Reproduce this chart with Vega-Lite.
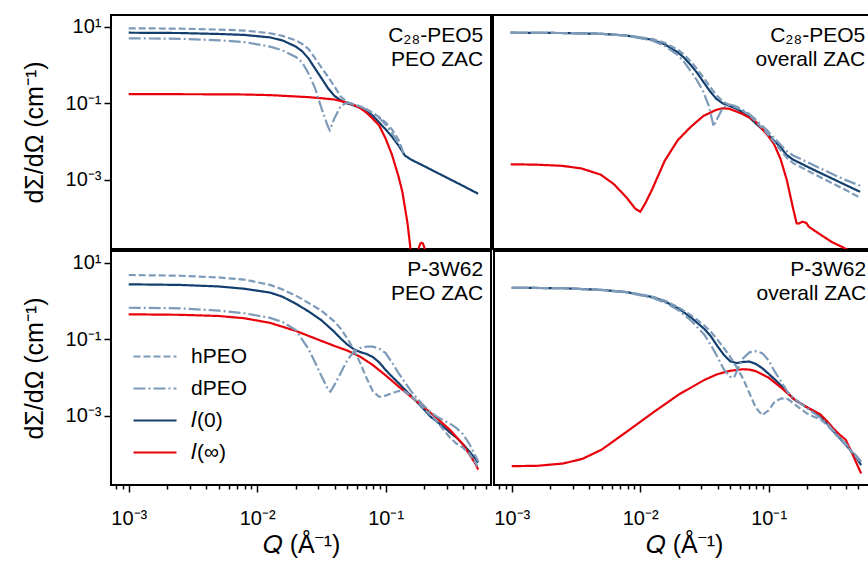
{
"$schema": "https://vega.github.io/schema/vega-lite/v6.json",
"padding": {"left": 21, "top": 14, "right": 0, "bottom": 0},
"background": "white",
"spacing": 0,
"resolve": {"scale": {"stroke": "independent", "strokeDash": "independent"}},
"datasets": {"d": [
{"p":"TL","s":"I0","q":0.001,"i":6.97},{"p":"TL","s":"I0","q":0.00251,"i":6.84},{"p":"TL","s":"I0","q":0.00501,"i":6.46},{"p":"TL","s":"I0","q":0.00794,"i":6.10},{"p":"TL","s":"I0","q":0.0126,"i":5.25},{"p":"TL","s":"I0","q":0.0158,"i":4.37},{"p":"TL","s":"I0","q":0.02,"i":3.02},{"p":"TL","s":"I0","q":0.0224,"i":2.29},{"p":"TL","s":"I0","q":0.0251,"i":1.48},{"p":"TL","s":"I0","q":0.0282,"i":0.813},{"p":"TL","s":"I0","q":0.0316,"i":0.457},{"p":"TL","s":"I0","q":0.0355,"i":0.251},{"p":"TL","s":"I0","q":0.0398,"i":0.158},{"p":"TL","s":"I0","q":0.0447,"i":0.120},{"p":"TL","s":"I0","q":0.0501,"i":0.100},{"p":"TL","s":"I0","q":0.0562,"i":0.0891},{"p":"TL","s":"I0","q":0.0631,"i":0.0776},{"p":"TL","s":"I0","q":0.0708,"i":0.0646},{"p":"TL","s":"I0","q":0.0794,"i":0.0479},{"p":"TL","s":"I0","q":0.0891,"i":0.0316},{"p":"TL","s":"I0","q":0.1,"i":0.0209},{"p":"TL","s":"I0","q":0.112,"i":0.0135},{"p":"TL","s":"I0","q":0.126,"i":0.00794},{"p":"TL","s":"I0","q":0.141,"i":0.00437},{"p":"TL","s":"I0","q":0.158,"i":0.00339},{"p":"TL","s":"I0","q":0.2,"i":0.00229},{"p":"TL","s":"I0","q":0.251,"i":0.00155},{"p":"TL","s":"I0","q":0.316,"i":0.00105},{"p":"TL","s":"I0","q":0.398,"i":0.000708},{"p":"TL","s":"I0","q":0.525,"i":0.000437},
{"p":"TL","s":"Iinf","q":0.001,"i":0.174},{"p":"TL","s":"Iinf","q":0.00251,"i":0.173},{"p":"TL","s":"Iinf","q":0.00501,"i":0.172},{"p":"TL","s":"Iinf","q":0.00794,"i":0.170},{"p":"TL","s":"Iinf","q":0.0126,"i":0.164},{"p":"TL","s":"Iinf","q":0.02,"i":0.151},{"p":"TL","s":"Iinf","q":0.0251,"i":0.145},{"p":"TL","s":"Iinf","q":0.0316,"i":0.136},{"p":"TL","s":"Iinf","q":0.0398,"i":0.126},{"p":"TL","s":"Iinf","q":0.0501,"i":0.105},{"p":"TL","s":"Iinf","q":0.0562,"i":0.0912},{"p":"TL","s":"Iinf","q":0.0631,"i":0.0759},{"p":"TL","s":"Iinf","q":0.0708,"i":0.0575},{"p":"TL","s":"Iinf","q":0.0794,"i":0.0398},{"p":"TL","s":"Iinf","q":0.0891,"i":0.0263},{"p":"TL","s":"Iinf","q":0.1,"i":0.012},{"p":"TL","s":"Iinf","q":0.112,"i":0.00457},{"p":"TL","s":"Iinf","q":0.126,"i":0.00123},{"p":"TL","s":"Iinf","q":0.135,"i":0.00049},{"p":"TL","s":"Iinf","q":0.141,"i":0.0002},{"p":"TL","s":"Iinf","q":0.148,"i":0.0000741},{"p":"TL","s":"Iinf","q":0.155,"i":0.00002},{"p":"TL","s":"Iinf","q":0.162,"i":0.0000025},{"p":"TL","s":"Iinf","q":0.170,"i":0.000001},{"p":"TL","s":"Iinf","q":0.174,"i":0.0000063},{"p":"TL","s":"Iinf","q":0.180,"i":0.0000158},{"p":"TL","s":"Iinf","q":0.186,"i":0.0000219},{"p":"TL","s":"Iinf","q":0.191,"i":0.0000229},{"p":"TL","s":"Iinf","q":0.195,"i":0.0000219},{"p":"TL","s":"Iinf","q":0.202,"i":0.0000158},{"p":"TL","s":"Iinf","q":0.209,"i":0.0000063},{"p":"TL","s":"Iinf","q":0.214,"i":0.000001},
{"p":"TL","s":"hPEO","q":0.001,"i":9.08},{"p":"TL","s":"hPEO","q":0.00251,"i":8.91},{"p":"TL","s":"hPEO","q":0.00501,"i":8.41},{"p":"TL","s":"hPEO","q":0.00794,"i":7.94},{"p":"TL","s":"hPEO","q":0.0126,"i":6.76},{"p":"TL","s":"hPEO","q":0.0158,"i":5.75},{"p":"TL","s":"hPEO","q":0.02,"i":4.37},{"p":"TL","s":"hPEO","q":0.0224,"i":3.55},{"p":"TL","s":"hPEO","q":0.0251,"i":2.63},{"p":"TL","s":"hPEO","q":0.0282,"i":1.51},{"p":"TL","s":"hPEO","q":0.0316,"i":0.871},{"p":"TL","s":"hPEO","q":0.0355,"i":0.501},{"p":"TL","s":"hPEO","q":0.0398,"i":0.282},{"p":"TL","s":"hPEO","q":0.0447,"i":0.151},{"p":"TL","s":"hPEO","q":0.0501,"i":0.107},{"p":"TL","s":"hPEO","q":0.0562,"i":0.0933},{"p":"TL","s":"hPEO","q":0.0631,"i":0.0832},{"p":"TL","s":"hPEO","q":0.0708,"i":0.0708},{"p":"TL","s":"hPEO","q":0.0794,"i":0.0562},{"p":"TL","s":"hPEO","q":0.0891,"i":0.0437},{"p":"TL","s":"hPEO","q":0.1,"i":0.0316},{"p":"TL","s":"hPEO","q":0.112,"i":0.0209},{"p":"TL","s":"hPEO","q":0.126,"i":0.0112},{"p":"TL","s":"hPEO","q":0.138,"i":0.00501},
{"p":"TL","s":"dPEO","q":0.001,"i":4.98},{"p":"TL","s":"dPEO","q":0.00251,"i":4.84},{"p":"TL","s":"dPEO","q":0.00501,"i":4.42},{"p":"TL","s":"dPEO","q":0.00794,"i":3.98},{"p":"TL","s":"dPEO","q":0.0126,"i":3.02},{"p":"TL","s":"dPEO","q":0.0158,"i":2.40},{"p":"TL","s":"dPEO","q":0.02,"i":1.62},{"p":"TL","s":"dPEO","q":0.0224,"i":1.175},{"p":"TL","s":"dPEO","q":0.0251,"i":0.603},{"p":"TL","s":"dPEO","q":0.0282,"i":0.251},{"p":"TL","s":"dPEO","q":0.0316,"i":0.0759},{"p":"TL","s":"dPEO","q":0.0355,"i":0.0251},{"p":"TL","s":"dPEO","q":0.0367,"i":0.0200},{"p":"TL","s":"dPEO","q":0.0398,"i":0.0398},{"p":"TL","s":"dPEO","q":0.0447,"i":0.0851},{"p":"TL","s":"dPEO","q":0.0501,"i":0.105},{"p":"TL","s":"dPEO","q":0.0562,"i":0.0955},{"p":"TL","s":"dPEO","q":0.0631,"i":0.0832},{"p":"TL","s":"dPEO","q":0.0708,"i":0.0692},{"p":"TL","s":"dPEO","q":0.0794,"i":0.0562},{"p":"TL","s":"dPEO","q":0.0891,"i":0.0417},{"p":"TL","s":"dPEO","q":0.1,"i":0.0282},{"p":"TL","s":"dPEO","q":0.112,"i":0.0166},{"p":"TL","s":"dPEO","q":0.126,"i":0.00891},{"p":"TL","s":"dPEO","q":0.138,"i":0.00501},
{"p":"TR","s":"I0","q":0.001,"i":6.97},{"p":"TR","s":"I0","q":0.00251,"i":6.84},{"p":"TR","s":"I0","q":0.00501,"i":6.53},{"p":"TR","s":"I0","q":0.00794,"i":5.89},{"p":"TR","s":"I0","q":0.0126,"i":4.57},{"p":"TR","s":"I0","q":0.0158,"i":3.47},{"p":"TR","s":"I0","q":0.02,"i":2.14},{"p":"TR","s":"I0","q":0.0224,"i":1.55},{"p":"TR","s":"I0","q":0.0251,"i":1.02},{"p":"TR","s":"I0","q":0.0282,"i":0.631},{"p":"TR","s":"I0","q":0.0316,"i":0.363},{"p":"TR","s":"I0","q":0.0355,"i":0.209},{"p":"TR","s":"I0","q":0.0398,"i":0.132},{"p":"TR","s":"I0","q":0.0447,"i":0.100},{"p":"TR","s":"I0","q":0.0501,"i":0.0871},{"p":"TR","s":"I0","q":0.0562,"i":0.0741},{"p":"TR","s":"I0","q":0.0631,"i":0.0603},{"p":"TR","s":"I0","q":0.0708,"i":0.0457},{"p":"TR","s":"I0","q":0.0794,"i":0.0316},{"p":"TR","s":"I0","q":0.0891,"i":0.0224},{"p":"TR","s":"I0","q":0.1,"i":0.0158},{"p":"TR","s":"I0","q":0.112,"i":0.0107},{"p":"TR","s":"I0","q":0.126,"i":0.00708},{"p":"TR","s":"I0","q":0.141,"i":0.00447},{"p":"TR","s":"I0","q":0.158,"i":0.00339},{"p":"TR","s":"I0","q":0.2,"i":0.00229},{"p":"TR","s":"I0","q":0.251,"i":0.00158},{"p":"TR","s":"I0","q":0.316,"i":0.0011},{"p":"TR","s":"I0","q":0.398,"i":0.000759},{"p":"TR","s":"I0","q":0.525,"i":0.00049},
{"p":"TR","s":"Iinf","q":0.001,"i":0.00257},{"p":"TR","s":"Iinf","q":0.00158,"i":0.00251},{"p":"TR","s":"Iinf","q":0.00251,"i":0.00234},{"p":"TR","s":"Iinf","q":0.00355,"i":0.002},{"p":"TR","s":"Iinf","q":0.00501,"i":0.00138},{"p":"TR","s":"Iinf","q":0.00631,"i":0.000794},{"p":"TR","s":"Iinf","q":0.00794,"i":0.000355},{"p":"TR","s":"Iinf","q":0.00933,"i":0.000178},{"p":"TR","s":"Iinf","q":0.0102,"i":0.000148},{"p":"TR","s":"Iinf","q":0.0112,"i":0.000251},{"p":"TR","s":"Iinf","q":0.0126,"i":0.000562},{"p":"TR","s":"Iinf","q":0.0158,"i":0.00316},{"p":"TR","s":"Iinf","q":0.02,"i":0.011},{"p":"TR","s":"Iinf","q":0.0251,"i":0.024},{"p":"TR","s":"Iinf","q":0.0316,"i":0.0468},{"p":"TR","s":"Iinf","q":0.0398,"i":0.0676},{"p":"TR","s":"Iinf","q":0.0447,"i":0.0741},{"p":"TR","s":"Iinf","q":0.0501,"i":0.0724},{"p":"TR","s":"Iinf","q":0.0631,"i":0.0537},{"p":"TR","s":"Iinf","q":0.0794,"i":0.0355},{"p":"TR","s":"Iinf","q":0.1,"i":0.0148},{"p":"TR","s":"Iinf","q":0.112,"i":0.00871},{"p":"TR","s":"Iinf","q":0.126,"i":0.00355},{"p":"TR","s":"Iinf","q":0.141,"i":0.001},{"p":"TR","s":"Iinf","q":0.158,"i":0.000178},{"p":"TR","s":"Iinf","q":0.162,"i":0.000126},{"p":"TR","s":"Iinf","q":0.168,"i":0.0000741},{"p":"TR","s":"Iinf","q":0.174,"i":0.0000724},{"p":"TR","s":"Iinf","q":0.186,"i":0.0000813},{"p":"TR","s":"Iinf","q":0.2,"i":0.0000759},{"p":"TR","s":"Iinf","q":0.209,"i":0.0000603},{"p":"TR","s":"Iinf","q":0.251,"i":0.0000398},{"p":"TR","s":"Iinf","q":0.316,"i":0.000024},{"p":"TR","s":"Iinf","q":0.398,"i":0.0000166},{"p":"TR","s":"Iinf","q":0.501,"i":0.0000105},
{"p":"TR","s":"hPEO","q":0.001,"i":6.97},{"p":"TR","s":"hPEO","q":0.00251,"i":6.84},{"p":"TR","s":"hPEO","q":0.00501,"i":6.53},{"p":"TR","s":"hPEO","q":0.00794,"i":5.96},{"p":"TR","s":"hPEO","q":0.0126,"i":4.79},{"p":"TR","s":"hPEO","q":0.0158,"i":3.80},{"p":"TR","s":"hPEO","q":0.02,"i":2.51},{"p":"TR","s":"hPEO","q":0.0224,"i":1.86},{"p":"TR","s":"hPEO","q":0.0251,"i":1.26},{"p":"TR","s":"hPEO","q":0.0282,"i":0.794},{"p":"TR","s":"hPEO","q":0.0316,"i":0.479},{"p":"TR","s":"hPEO","q":0.0355,"i":0.275},{"p":"TR","s":"hPEO","q":0.0398,"i":0.166},{"p":"TR","s":"hPEO","q":0.0447,"i":0.112},{"p":"TR","s":"hPEO","q":0.0501,"i":0.0912},{"p":"TR","s":"hPEO","q":0.0562,"i":0.0794},{"p":"TR","s":"hPEO","q":0.0631,"i":0.0661},{"p":"TR","s":"hPEO","q":0.0708,"i":0.0513},{"p":"TR","s":"hPEO","q":0.0794,"i":0.0363},{"p":"TR","s":"hPEO","q":0.0891,"i":0.024},{"p":"TR","s":"hPEO","q":0.1,"i":0.0158},{"p":"TR","s":"hPEO","q":0.112,"i":0.01},{"p":"TR","s":"hPEO","q":0.126,"i":0.00603},{"p":"TR","s":"hPEO","q":0.141,"i":0.0038},{"p":"TR","s":"hPEO","q":0.158,"i":0.00275},{"p":"TR","s":"hPEO","q":0.2,"i":0.00182},{"p":"TR","s":"hPEO","q":0.251,"i":0.00123},{"p":"TR","s":"hPEO","q":0.316,"i":0.000832},{"p":"TR","s":"hPEO","q":0.398,"i":0.000562},{"p":"TR","s":"hPEO","q":0.525,"i":0.000347},
{"p":"TR","s":"dPEO","q":0.001,"i":6.97},{"p":"TR","s":"dPEO","q":0.00251,"i":6.84},{"p":"TR","s":"dPEO","q":0.00501,"i":6.53},{"p":"TR","s":"dPEO","q":0.00794,"i":5.82},{"p":"TR","s":"dPEO","q":0.0126,"i":4.37},{"p":"TR","s":"dPEO","q":0.0158,"i":3.16},{"p":"TR","s":"dPEO","q":0.02,"i":1.82},{"p":"TR","s":"dPEO","q":0.0224,"i":1.20},{"p":"TR","s":"dPEO","q":0.0251,"i":0.708},{"p":"TR","s":"dPEO","q":0.0282,"i":0.398},{"p":"TR","s":"dPEO","q":0.0316,"i":0.200},{"p":"TR","s":"dPEO","q":0.0347,"i":0.0891},{"p":"TR","s":"dPEO","q":0.038,"i":0.0251},{"p":"TR","s":"dPEO","q":0.0398,"i":0.0355},{"p":"TR","s":"dPEO","q":0.0447,"i":0.0759},{"p":"TR","s":"dPEO","q":0.0501,"i":0.0933},{"p":"TR","s":"dPEO","q":0.0562,"i":0.0851},{"p":"TR","s":"dPEO","q":0.0631,"i":0.0692},{"p":"TR","s":"dPEO","q":0.0708,"i":0.055},{"p":"TR","s":"dPEO","q":0.0794,"i":0.0398},{"p":"TR","s":"dPEO","q":0.0891,"i":0.0275},{"p":"TR","s":"dPEO","q":0.1,"i":0.0191},{"p":"TR","s":"dPEO","q":0.112,"i":0.0126},{"p":"TR","s":"dPEO","q":0.126,"i":0.00832},{"p":"TR","s":"dPEO","q":0.141,"i":0.00562},{"p":"TR","s":"dPEO","q":0.158,"i":0.00437},{"p":"TR","s":"dPEO","q":0.2,"i":0.00302},{"p":"TR","s":"dPEO","q":0.251,"i":0.00209},{"p":"TR","s":"dPEO","q":0.316,"i":0.00145},{"p":"TR","s":"dPEO","q":0.398,"i":0.00102},{"p":"TR","s":"dPEO","q":0.525,"i":0.000708},
{"p":"BL","s":"I0","q":0.001,"i":2.73},{"p":"BL","s":"I0","q":0.00251,"i":2.63},{"p":"BL","s":"I0","q":0.00501,"i":2.40},{"p":"BL","s":"I0","q":0.00794,"i":2.09},{"p":"BL","s":"I0","q":0.0126,"i":1.66},{"p":"BL","s":"I0","q":0.0158,"i":1.29},{"p":"BL","s":"I0","q":0.02,"i":0.851},{"p":"BL","s":"I0","q":0.0251,"i":0.537},{"p":"BL","s":"I0","q":0.0316,"i":0.316},{"p":"BL","s":"I0","q":0.0398,"i":0.158},{"p":"BL","s":"I0","q":0.0447,"i":0.105},{"p":"BL","s":"I0","q":0.0501,"i":0.0741},{"p":"BL","s":"I0","q":0.0562,"i":0.0562},{"p":"BL","s":"I0","q":0.0631,"i":0.0468},{"p":"BL","s":"I0","q":0.0708,"i":0.0417},{"p":"BL","s":"I0","q":0.0794,"i":0.0347},{"p":"BL","s":"I0","q":0.0891,"i":0.0251},{"p":"BL","s":"I0","q":0.1,"i":0.0158},{"p":"BL","s":"I0","q":0.112,"i":0.0107},{"p":"BL","s":"I0","q":0.126,"i":0.00724},{"p":"BL","s":"I0","q":0.141,"i":0.0049},{"p":"BL","s":"I0","q":0.158,"i":0.00331},{"p":"BL","s":"I0","q":0.178,"i":0.00219},{"p":"BL","s":"I0","q":0.2,"i":0.00145},{"p":"BL","s":"I0","q":0.224,"i":0.000955},{"p":"BL","s":"I0","q":0.251,"i":0.000708},{"p":"BL","s":"I0","q":0.282,"i":0.000525},{"p":"BL","s":"I0","q":0.316,"i":0.000372},{"p":"BL","s":"I0","q":0.355,"i":0.000275},{"p":"BL","s":"I0","q":0.398,"i":0.000186},{"p":"BL","s":"I0","q":0.447,"i":0.00012},{"p":"BL","s":"I0","q":0.501,"i":0.0000759},{"p":"BL","s":"I0","q":0.525,"i":0.0000603},
{"p":"BL","s":"Iinf","q":0.001,"i":0.45},{"p":"BL","s":"Iinf","q":0.00251,"i":0.437},{"p":"BL","s":"Iinf","q":0.00501,"i":0.407},{"p":"BL","s":"Iinf","q":0.00794,"i":0.355},{"p":"BL","s":"Iinf","q":0.0126,"i":0.269},{"p":"BL","s":"Iinf","q":0.02,"i":0.166},{"p":"BL","s":"Iinf","q":0.0316,"i":0.0912},{"p":"BL","s":"Iinf","q":0.0398,"i":0.0676},{"p":"BL","s":"Iinf","q":0.0501,"i":0.0513},{"p":"BL","s":"Iinf","q":0.0631,"i":0.0355},{"p":"BL","s":"Iinf","q":0.0794,"i":0.0214},{"p":"BL","s":"Iinf","q":0.1,"i":0.0115},{"p":"BL","s":"Iinf","q":0.126,"i":0.00589},{"p":"BL","s":"Iinf","q":0.158,"i":0.00316},{"p":"BL","s":"Iinf","q":0.2,"i":0.00166},{"p":"BL","s":"Iinf","q":0.251,"i":0.000871},{"p":"BL","s":"Iinf","q":0.316,"i":0.000437},{"p":"BL","s":"Iinf","q":0.398,"i":0.000186},{"p":"BL","s":"Iinf","q":0.501,"i":0.0000562},{"p":"BL","s":"Iinf","q":0.525,"i":0.0000398},
{"p":"BL","s":"hPEO","q":0.001,"i":4.78},{"p":"BL","s":"hPEO","q":0.00251,"i":4.57},{"p":"BL","s":"hPEO","q":0.00501,"i":4.12},{"p":"BL","s":"hPEO","q":0.00794,"i":3.63},{"p":"BL","s":"hPEO","q":0.0126,"i":2.63},{"p":"BL","s":"hPEO","q":0.0158,"i":2.00},{"p":"BL","s":"hPEO","q":0.02,"i":1.38},{"p":"BL","s":"hPEO","q":0.0251,"i":0.891},{"p":"BL","s":"hPEO","q":0.0316,"i":0.562},{"p":"BL","s":"hPEO","q":0.0398,"i":0.295},{"p":"BL","s":"hPEO","q":0.0447,"i":0.191},{"p":"BL","s":"hPEO","q":0.0501,"i":0.107},{"p":"BL","s":"hPEO","q":0.0562,"i":0.0562},{"p":"BL","s":"hPEO","q":0.0631,"i":0.0251},{"p":"BL","s":"hPEO","q":0.0708,"i":0.01},{"p":"BL","s":"hPEO","q":0.0794,"i":0.00447},{"p":"BL","s":"hPEO","q":0.0891,"i":0.00316},{"p":"BL","s":"hPEO","q":0.1,"i":0.00339},{"p":"BL","s":"hPEO","q":0.112,"i":0.00389},{"p":"BL","s":"hPEO","q":0.126,"i":0.00447},{"p":"BL","s":"hPEO","q":0.141,"i":0.00437},{"p":"BL","s":"hPEO","q":0.158,"i":0.00331},{"p":"BL","s":"hPEO","q":0.178,"i":0.00229},{"p":"BL","s":"hPEO","q":0.2,"i":0.00151},{"p":"BL","s":"hPEO","q":0.224,"i":0.00105},{"p":"BL","s":"hPEO","q":0.251,"i":0.000724},{"p":"BL","s":"hPEO","q":0.282,"i":0.000437},{"p":"BL","s":"hPEO","q":0.316,"i":0.000275},{"p":"BL","s":"hPEO","q":0.355,"i":0.000191},{"p":"BL","s":"hPEO","q":0.398,"i":0.000151},{"p":"BL","s":"hPEO","q":0.447,"i":0.000105},{"p":"BL","s":"hPEO","q":0.501,"i":0.0000603},{"p":"BL","s":"hPEO","q":0.525,"i":0.0000447},
{"p":"BL","s":"dPEO","q":0.001,"i":0.668},{"p":"BL","s":"dPEO","q":0.00251,"i":0.646},{"p":"BL","s":"dPEO","q":0.00501,"i":0.562},{"p":"BL","s":"dPEO","q":0.00794,"i":0.479},{"p":"BL","s":"dPEO","q":0.0126,"i":0.363},{"p":"BL","s":"dPEO","q":0.0158,"i":0.282},{"p":"BL","s":"dPEO","q":0.02,"i":0.174},{"p":"BL","s":"dPEO","q":0.0251,"i":0.0562},{"p":"BL","s":"dPEO","q":0.0282,"i":0.0251},{"p":"BL","s":"dPEO","q":0.0316,"i":0.0112},{"p":"BL","s":"dPEO","q":0.0355,"i":0.00501},{"p":"BL","s":"dPEO","q":0.0372,"i":0.00427},{"p":"BL","s":"dPEO","q":0.0398,"i":0.00631},{"p":"BL","s":"dPEO","q":0.0447,"i":0.0132},{"p":"BL","s":"dPEO","q":0.0501,"i":0.0282},{"p":"BL","s":"dPEO","q":0.0562,"i":0.0468},{"p":"BL","s":"dPEO","q":0.0631,"i":0.0589},{"p":"BL","s":"dPEO","q":0.0708,"i":0.0646},{"p":"BL","s":"dPEO","q":0.0794,"i":0.0646},{"p":"BL","s":"dPEO","q":0.0891,"i":0.0575},{"p":"BL","s":"dPEO","q":0.1,"i":0.0437},{"p":"BL","s":"dPEO","q":0.112,"i":0.0251},{"p":"BL","s":"dPEO","q":0.126,"i":0.0132},{"p":"BL","s":"dPEO","q":0.141,"i":0.00759},{"p":"BL","s":"dPEO","q":0.158,"i":0.00437},{"p":"BL","s":"dPEO","q":0.178,"i":0.00275},{"p":"BL","s":"dPEO","q":0.2,"i":0.00182},{"p":"BL","s":"dPEO","q":0.224,"i":0.00126},{"p":"BL","s":"dPEO","q":0.251,"i":0.000955},{"p":"BL","s":"dPEO","q":0.282,"i":0.000776},{"p":"BL","s":"dPEO","q":0.316,"i":0.000631},{"p":"BL","s":"dPEO","q":0.355,"i":0.00049},{"p":"BL","s":"dPEO","q":0.398,"i":0.000339},{"p":"BL","s":"dPEO","q":0.447,"i":0.000191},{"p":"BL","s":"dPEO","q":0.501,"i":0.0000891},{"p":"BL","s":"dPEO","q":0.525,"i":0.0000661},
{"p":"BR","s":"I0","q":0.001,"i":2.22},{"p":"BR","s":"I0","q":0.00251,"i":2.16},{"p":"BR","s":"I0","q":0.00501,"i":1.95},{"p":"BR","s":"I0","q":0.00794,"i":1.70},{"p":"BR","s":"I0","q":0.0126,"i":1.26},{"p":"BR","s":"I0","q":0.0158,"i":0.955},{"p":"BR","s":"I0","q":0.02,"i":0.631},{"p":"BR","s":"I0","q":0.0251,"i":0.363},{"p":"BR","s":"I0","q":0.0316,"i":0.186},{"p":"BR","s":"I0","q":0.0355,"i":0.120},{"p":"BR","s":"I0","q":0.0398,"i":0.0676},{"p":"BR","s":"I0","q":0.0447,"i":0.0398},{"p":"BR","s":"I0","q":0.0501,"i":0.0269},{"p":"BR","s":"I0","q":0.0562,"i":0.024},{"p":"BR","s":"I0","q":0.0631,"i":0.0257},{"p":"BR","s":"I0","q":0.0708,"i":0.0263},{"p":"BR","s":"I0","q":0.0794,"i":0.0229},{"p":"BR","s":"I0","q":0.0891,"i":0.0178},{"p":"BR","s":"I0","q":0.1,"i":0.0126},{"p":"BR","s":"I0","q":0.112,"i":0.00891},{"p":"BR","s":"I0","q":0.126,"i":0.00603},{"p":"BR","s":"I0","q":0.141,"i":0.00398},{"p":"BR","s":"I0","q":0.158,"i":0.00269},{"p":"BR","s":"I0","q":0.178,"i":0.00209},{"p":"BR","s":"I0","q":0.2,"i":0.00166},{"p":"BR","s":"I0","q":0.224,"i":0.00135},{"p":"BR","s":"I0","q":0.251,"i":0.00105},{"p":"BR","s":"I0","q":0.282,"i":0.000661},{"p":"BR","s":"I0","q":0.316,"i":0.000417},{"p":"BR","s":"I0","q":0.355,"i":0.000269},{"p":"BR","s":"I0","q":0.398,"i":0.000178},{"p":"BR","s":"I0","q":0.447,"i":0.000112},{"p":"BR","s":"I0","q":0.501,"i":0.0000661},{"p":"BR","s":"I0","q":0.525,"i":0.0000525},
{"p":"BR","s":"Iinf","q":0.001,"i":0.000049},{"p":"BR","s":"Iinf","q":0.00158,"i":0.0000501},{"p":"BR","s":"Iinf","q":0.00251,"i":0.0000575},{"p":"BR","s":"Iinf","q":0.00355,"i":0.0000759},{"p":"BR","s":"Iinf","q":0.00501,"i":0.000132},{"p":"BR","s":"Iinf","q":0.00794,"i":0.000398},{"p":"BR","s":"Iinf","q":0.0126,"i":0.00123},{"p":"BR","s":"Iinf","q":0.02,"i":0.00363},{"p":"BR","s":"Iinf","q":0.0316,"i":0.00871},{"p":"BR","s":"Iinf","q":0.0398,"i":0.0123},{"p":"BR","s":"Iinf","q":0.0501,"i":0.0151},{"p":"BR","s":"Iinf","q":0.0631,"i":0.0166},{"p":"BR","s":"Iinf","q":0.0708,"i":0.0162},{"p":"BR","s":"Iinf","q":0.0794,"i":0.0148},{"p":"BR","s":"Iinf","q":0.1,"i":0.01},{"p":"BR","s":"Iinf","q":0.126,"i":0.00537},{"p":"BR","s":"Iinf","q":0.158,"i":0.00275},{"p":"BR","s":"Iinf","q":0.2,"i":0.00166},{"p":"BR","s":"Iinf","q":0.251,"i":0.00112},{"p":"BR","s":"Iinf","q":0.282,"i":0.000759},{"p":"BR","s":"Iinf","q":0.316,"i":0.00049},{"p":"BR","s":"Iinf","q":0.355,"i":0.000331},{"p":"BR","s":"Iinf","q":0.398,"i":0.00024},{"p":"BR","s":"Iinf","q":0.447,"i":0.000105},{"p":"BR","s":"Iinf","q":0.501,"i":0.0000447},{"p":"BR","s":"Iinf","q":0.525,"i":0.0000316},
{"p":"BR","s":"hPEO","q":0.001,"i":2.22},{"p":"BR","s":"hPEO","q":0.00251,"i":2.16},{"p":"BR","s":"hPEO","q":0.00501,"i":1.95},{"p":"BR","s":"hPEO","q":0.00794,"i":1.72},{"p":"BR","s":"hPEO","q":0.0126,"i":1.29},{"p":"BR","s":"hPEO","q":0.0158,"i":1.0},{"p":"BR","s":"hPEO","q":0.02,"i":0.676},{"p":"BR","s":"hPEO","q":0.0251,"i":0.417},{"p":"BR","s":"hPEO","q":0.0316,"i":0.229},{"p":"BR","s":"hPEO","q":0.0355,"i":0.158},{"p":"BR","s":"hPEO","q":0.0398,"i":0.1},{"p":"BR","s":"hPEO","q":0.0447,"i":0.0603},{"p":"BR","s":"hPEO","q":0.0501,"i":0.0355},{"p":"BR","s":"hPEO","q":0.0562,"i":0.0191},{"p":"BR","s":"hPEO","q":0.0631,"i":0.00955},{"p":"BR","s":"hPEO","q":0.0708,"i":0.00398},{"p":"BR","s":"hPEO","q":0.0794,"i":0.00166},{"p":"BR","s":"hPEO","q":0.0891,"i":0.00105},{"p":"BR","s":"hPEO","q":0.1,"i":0.00141},{"p":"BR","s":"hPEO","q":0.112,"i":0.0024},{"p":"BR","s":"hPEO","q":0.126,"i":0.00288},{"p":"BR","s":"hPEO","q":0.141,"i":0.00275},{"p":"BR","s":"hPEO","q":0.158,"i":0.00209},{"p":"BR","s":"hPEO","q":0.178,"i":0.00151},{"p":"BR","s":"hPEO","q":0.2,"i":0.00115},{"p":"BR","s":"hPEO","q":0.224,"i":0.000955},{"p":"BR","s":"hPEO","q":0.251,"i":0.000832},{"p":"BR","s":"hPEO","q":0.282,"i":0.000603},{"p":"BR","s":"hPEO","q":0.316,"i":0.000398},{"p":"BR","s":"hPEO","q":0.355,"i":0.000263},{"p":"BR","s":"hPEO","q":0.398,"i":0.000174},{"p":"BR","s":"hPEO","q":0.447,"i":0.000112},{"p":"BR","s":"hPEO","q":0.501,"i":0.0000708},{"p":"BR","s":"hPEO","q":0.525,"i":0.0000575},
{"p":"BR","s":"dPEO","q":0.001,"i":2.22},{"p":"BR","s":"dPEO","q":0.00251,"i":2.16},{"p":"BR","s":"dPEO","q":0.00501,"i":1.93},{"p":"BR","s":"dPEO","q":0.00794,"i":1.66},{"p":"BR","s":"dPEO","q":0.0126,"i":1.20},{"p":"BR","s":"dPEO","q":0.0158,"i":0.891},{"p":"BR","s":"dPEO","q":0.02,"i":0.562},{"p":"BR","s":"dPEO","q":0.0251,"i":0.302},{"p":"BR","s":"dPEO","q":0.0316,"i":0.132},{"p":"BR","s":"dPEO","q":0.0355,"i":0.0708},{"p":"BR","s":"dPEO","q":0.0398,"i":0.0355},{"p":"BR","s":"dPEO","q":0.0447,"i":0.0166},{"p":"BR","s":"dPEO","q":0.0501,"i":0.0105},{"p":"BR","s":"dPEO","q":0.0537,"i":0.01},{"p":"BR","s":"dPEO","q":0.0589,"i":0.02},{"p":"BR","s":"dPEO","q":0.0631,"i":0.0316},{"p":"BR","s":"dPEO","q":0.0708,"i":0.0457},{"p":"BR","s":"dPEO","q":0.0794,"i":0.049},{"p":"BR","s":"dPEO","q":0.0891,"i":0.0437},{"p":"BR","s":"dPEO","q":0.1,"i":0.0282},{"p":"BR","s":"dPEO","q":0.112,"i":0.0141},{"p":"BR","s":"dPEO","q":0.126,"i":0.00759},{"p":"BR","s":"dPEO","q":0.141,"i":0.00417},{"p":"BR","s":"dPEO","q":0.158,"i":0.00282},{"p":"BR","s":"dPEO","q":0.178,"i":0.00209},{"p":"BR","s":"dPEO","q":0.2,"i":0.00158},{"p":"BR","s":"dPEO","q":0.224,"i":0.0012},{"p":"BR","s":"dPEO","q":0.251,"i":0.000912},{"p":"BR","s":"dPEO","q":0.282,"i":0.000661},{"p":"BR","s":"dPEO","q":0.316,"i":0.000437},{"p":"BR","s":"dPEO","q":0.355,"i":0.000282},{"p":"BR","s":"dPEO","q":0.398,"i":0.000191},{"p":"BR","s":"dPEO","q":0.447,"i":0.00012},{"p":"BR","s":"dPEO","q":0.501,"i":0.0000794},{"p":"BR","s":"dPEO","q":0.525,"i":0.0000631}
]},
"vconcat": [
{"spacing": 0, "resolve": {"scale": {"stroke": "independent", "strokeDash": "independent"}},
 "hconcat": [
 {"width": 380, "height": 234, "layer": [
  {"data": {"name": "d"}, "transform": [{"filter": "datum.p == 'TL'"}],
   "mark": {"type": "line", "clip": true, "strokeWidth": 2.2},
   "encoding": {
    "x": {"field": "q", "type": "quantitative", "scale": {"type": "log", "domain": [0.000728, 0.661], "nice": false}, "axis": null},
    "y": {"field": "i", "type": "quantitative", "scale": {"type": "log", "domain": [0.0000158, 20.2], "nice": false},
      "axis": {"values": [10, 0.1, 0.001], "labelExpr": "datum.value > 1 ? '10¹' : datum.value > 0.01 ? '10⁻¹' : '10⁻³'", "tickSize": 7, "labelPadding": 3, "title": "dΣ/dΩ (cm⁻¹)", "titlePadding": 18}},
    "stroke": {"field": "s", "type": "nominal", "scale": {"domain": ["hPEO", "dPEO", "I0", "Iinf"], "range": ["#7d9bb9", "#7d9bb9", "#123f6e", "#e8000b"]}, "legend": null},
    "strokeDash": {"field": "s", "type": "nominal", "scale": {"domain": ["hPEO", "dPEO", "I0", "Iinf"], "range": [[7, 3], [12, 3, 2, 3], [1, 0], [1, 0]]}, "legend": null}
   }},
  {"data": {"values": [{}]},
   "mark": {"type": "text", "text": ["C₂₈-PEO5", "PEO ZAC"], "align": "right", "baseline": "alphabetic", "fontSize": 21, "lineHeight": 24, "color": "#000"},
   "encoding": {"x": {"datum": 0.575, "type": "quantitative", "axis": null}, "y": {"datum": 4.0, "type": "quantitative"}}}
 ]},
 {"width": 380, "height": 234, "layer": [
  {"data": {"name": "d"}, "transform": [{"filter": "datum.p == 'TR'"}],
   "mark": {"type": "line", "clip": true, "strokeWidth": 2.2},
   "encoding": {
    "x": {"field": "q", "type": "quantitative", "scale": {"type": "log", "domain": [0.000728, 0.661], "nice": false}, "axis": null},
    "y": {"field": "i", "type": "quantitative", "scale": {"type": "log", "domain": [0.0000158, 20.2], "nice": false}, "axis": null},
    "stroke": {"field": "s", "type": "nominal", "scale": {"domain": ["hPEO", "dPEO", "I0", "Iinf"], "range": ["#7d9bb9", "#7d9bb9", "#123f6e", "#e8000b"]}, "legend": null},
    "strokeDash": {"field": "s", "type": "nominal", "scale": {"domain": ["hPEO", "dPEO", "I0", "Iinf"], "range": [[7, 3], [12, 3, 2, 3], [1, 0], [1, 0]]}, "legend": null}
   }},
  {"data": {"values": [{}]},
   "mark": {"type": "text", "text": ["C₂₈-PEO5", "overall ZAC"], "align": "right", "baseline": "alphabetic", "fontSize": 21, "lineHeight": 24, "color": "#000"},
   "encoding": {"x": {"datum": 0.575, "type": "quantitative", "axis": null}, "y": {"datum": 4.0, "type": "quantitative", "axis": null}}}
 ]}
]},
{"spacing": 0, "resolve": {"scale": {"stroke": "independent", "strokeDash": "independent"}},
 "hconcat": [
 {"width": 380, "height": 234, "resolve": {"axis": {"x": "independent"}}, "layer": [
  {"data": {"name": "d"}, "transform": [{"filter": "datum.p == 'BL'"}],
   "mark": {"type": "line", "clip": true, "strokeWidth": 2.2},
   "encoding": {
    "x": {"field": "q", "type": "quantitative", "scale": {"type": "log", "domain": [0.000728, 0.661], "nice": false},
      "axis": {"orient": "bottom", "values": [0.001, 0.01, 0.1], "labelExpr": "datum.value < 0.005 ? '10⁻³' : datum.value < 0.05 ? '10⁻²' : '10⁻¹'", "tickSize": 7, "labelPadding": 16, "labelFlush": false, "title": "𝑄 (Å⁻¹)", "titlePadding": 4}},
    "y": {"field": "i", "type": "quantitative", "scale": {"type": "log", "domain": [0.0000158, 20.2], "nice": false},
      "axis": {"values": [10, 0.1, 0.001], "labelExpr": "datum.value > 1 ? '10¹' : datum.value > 0.01 ? '10⁻¹' : '10⁻³'", "tickSize": 7, "labelPadding": 3, "title": "dΣ/dΩ (cm⁻¹)", "titlePadding": 18}},
    "stroke": {"field": "s", "type": "nominal", "scale": {"domain": ["hPEO", "dPEO", "I0", "Iinf"], "range": ["#7d9bb9", "#7d9bb9", "#123f6e", "#e8000b"]},
      "legend": {"orient": "bottom-left", "offset": 22, "title": null, "symbolType": "M-2,0H6.6", "symbolSize": 100, "symbolStrokeWidth": 2.2, "labelFontSize": 21, "labelOffset": 37, "rowPadding": 10, "padding": 0, "labelExpr": "datum.label == 'I0' ? '𝐼(0)' : datum.label == 'Iinf' ? '𝐼(∞)' : datum.label"}},
    "strokeDash": {"field": "s", "type": "nominal", "scale": {"domain": ["hPEO", "dPEO", "I0", "Iinf"], "range": [[7, 3], [12, 3, 2, 3], [1, 0], [1, 0]]},
      "legend": {"orient": "bottom-left", "offset": 22, "title": null, "symbolType": "M-2,0H6.6", "symbolSize": 100, "symbolStrokeWidth": 2.2, "labelFontSize": 21, "labelOffset": 37, "rowPadding": 10, "padding": 0, "labelExpr": "datum.label == 'I0' ? '𝐼(0)' : datum.label == 'Iinf' ? '𝐼(∞)' : datum.label"}}
   }},
  {"data": {"values": [{}]},
   "mark": {"type": "text", "text": ["P-3W62", "PEO ZAC"], "align": "right", "baseline": "alphabetic", "fontSize": 21, "lineHeight": 24, "color": "#000"},
   "encoding": {"x": {"datum": 0.575, "type": "quantitative", "axis": {"orient": "bottom", "values": [0.0008, 0.0009, 0.002, 0.003, 0.004, 0.005, 0.006, 0.007, 0.008, 0.009, 0.02, 0.03, 0.04, 0.05, 0.06, 0.07, 0.08, 0.09, 0.2, 0.3, 0.4, 0.5, 0.6], "labels": false, "tickSize": 4, "title": null}}, "y": {"datum": 4.4, "type": "quantitative"}}}
 ]},
 {"width": 380, "height": 234, "resolve": {"axis": {"x": "independent"}}, "layer": [
  {"data": {"name": "d"}, "transform": [{"filter": "datum.p == 'BR'"}],
   "mark": {"type": "line", "clip": true, "strokeWidth": 2.2},
   "encoding": {
    "x": {"field": "q", "type": "quantitative", "scale": {"type": "log", "domain": [0.000728, 0.661], "nice": false},
      "axis": {"orient": "bottom", "values": [0.001, 0.01, 0.1], "labelExpr": "datum.value < 0.005 ? '10⁻³' : datum.value < 0.05 ? '10⁻²' : '10⁻¹'", "tickSize": 7, "labelPadding": 16, "labelFlush": false, "title": "𝑄 (Å⁻¹)", "titlePadding": 4}},
    "y": {"field": "i", "type": "quantitative", "scale": {"type": "log", "domain": [0.0000158, 20.2], "nice": false}, "axis": null},
    "stroke": {"field": "s", "type": "nominal", "scale": {"domain": ["hPEO", "dPEO", "I0", "Iinf"], "range": ["#7d9bb9", "#7d9bb9", "#123f6e", "#e8000b"]}, "legend": null},
    "strokeDash": {"field": "s", "type": "nominal", "scale": {"domain": ["hPEO", "dPEO", "I0", "Iinf"], "range": [[7, 3], [12, 3, 2, 3], [1, 0], [1, 0]]}, "legend": null}
   }},
  {"data": {"values": [{}]},
   "mark": {"type": "text", "text": ["P-3W62", "overall ZAC"], "align": "right", "baseline": "alphabetic", "fontSize": 21, "lineHeight": 24, "color": "#000"},
   "encoding": {"x": {"datum": 0.575, "type": "quantitative", "axis": {"orient": "bottom", "values": [0.0008, 0.0009, 0.002, 0.003, 0.004, 0.005, 0.006, 0.007, 0.008, 0.009, 0.02, 0.03, 0.04, 0.05, 0.06, 0.07, 0.08, 0.09, 0.2, 0.3, 0.4, 0.5, 0.6], "labels": false, "tickSize": 4, "title": null}}, "y": {"datum": 4.4, "type": "quantitative", "axis": null}}}
 ]}
]}
],
"config": {
 "font": "Liberation Sans",
 "view": {"stroke": "#000", "strokeWidth": 2},
 "axis": {"domain": false, "grid": false, "tickColor": "#000", "tickWidth": 1.5, "labelColor": "#000", "titleColor": "#000", "labelFont": "Liberation Sans", "titleFont": "Liberation Sans", "labelFontSize": 20, "titleFontSize": 25, "titleFontWeight": "normal"},
 "legend": {"labelFont": "Liberation Sans", "labelColor": "#000"}
}
}
